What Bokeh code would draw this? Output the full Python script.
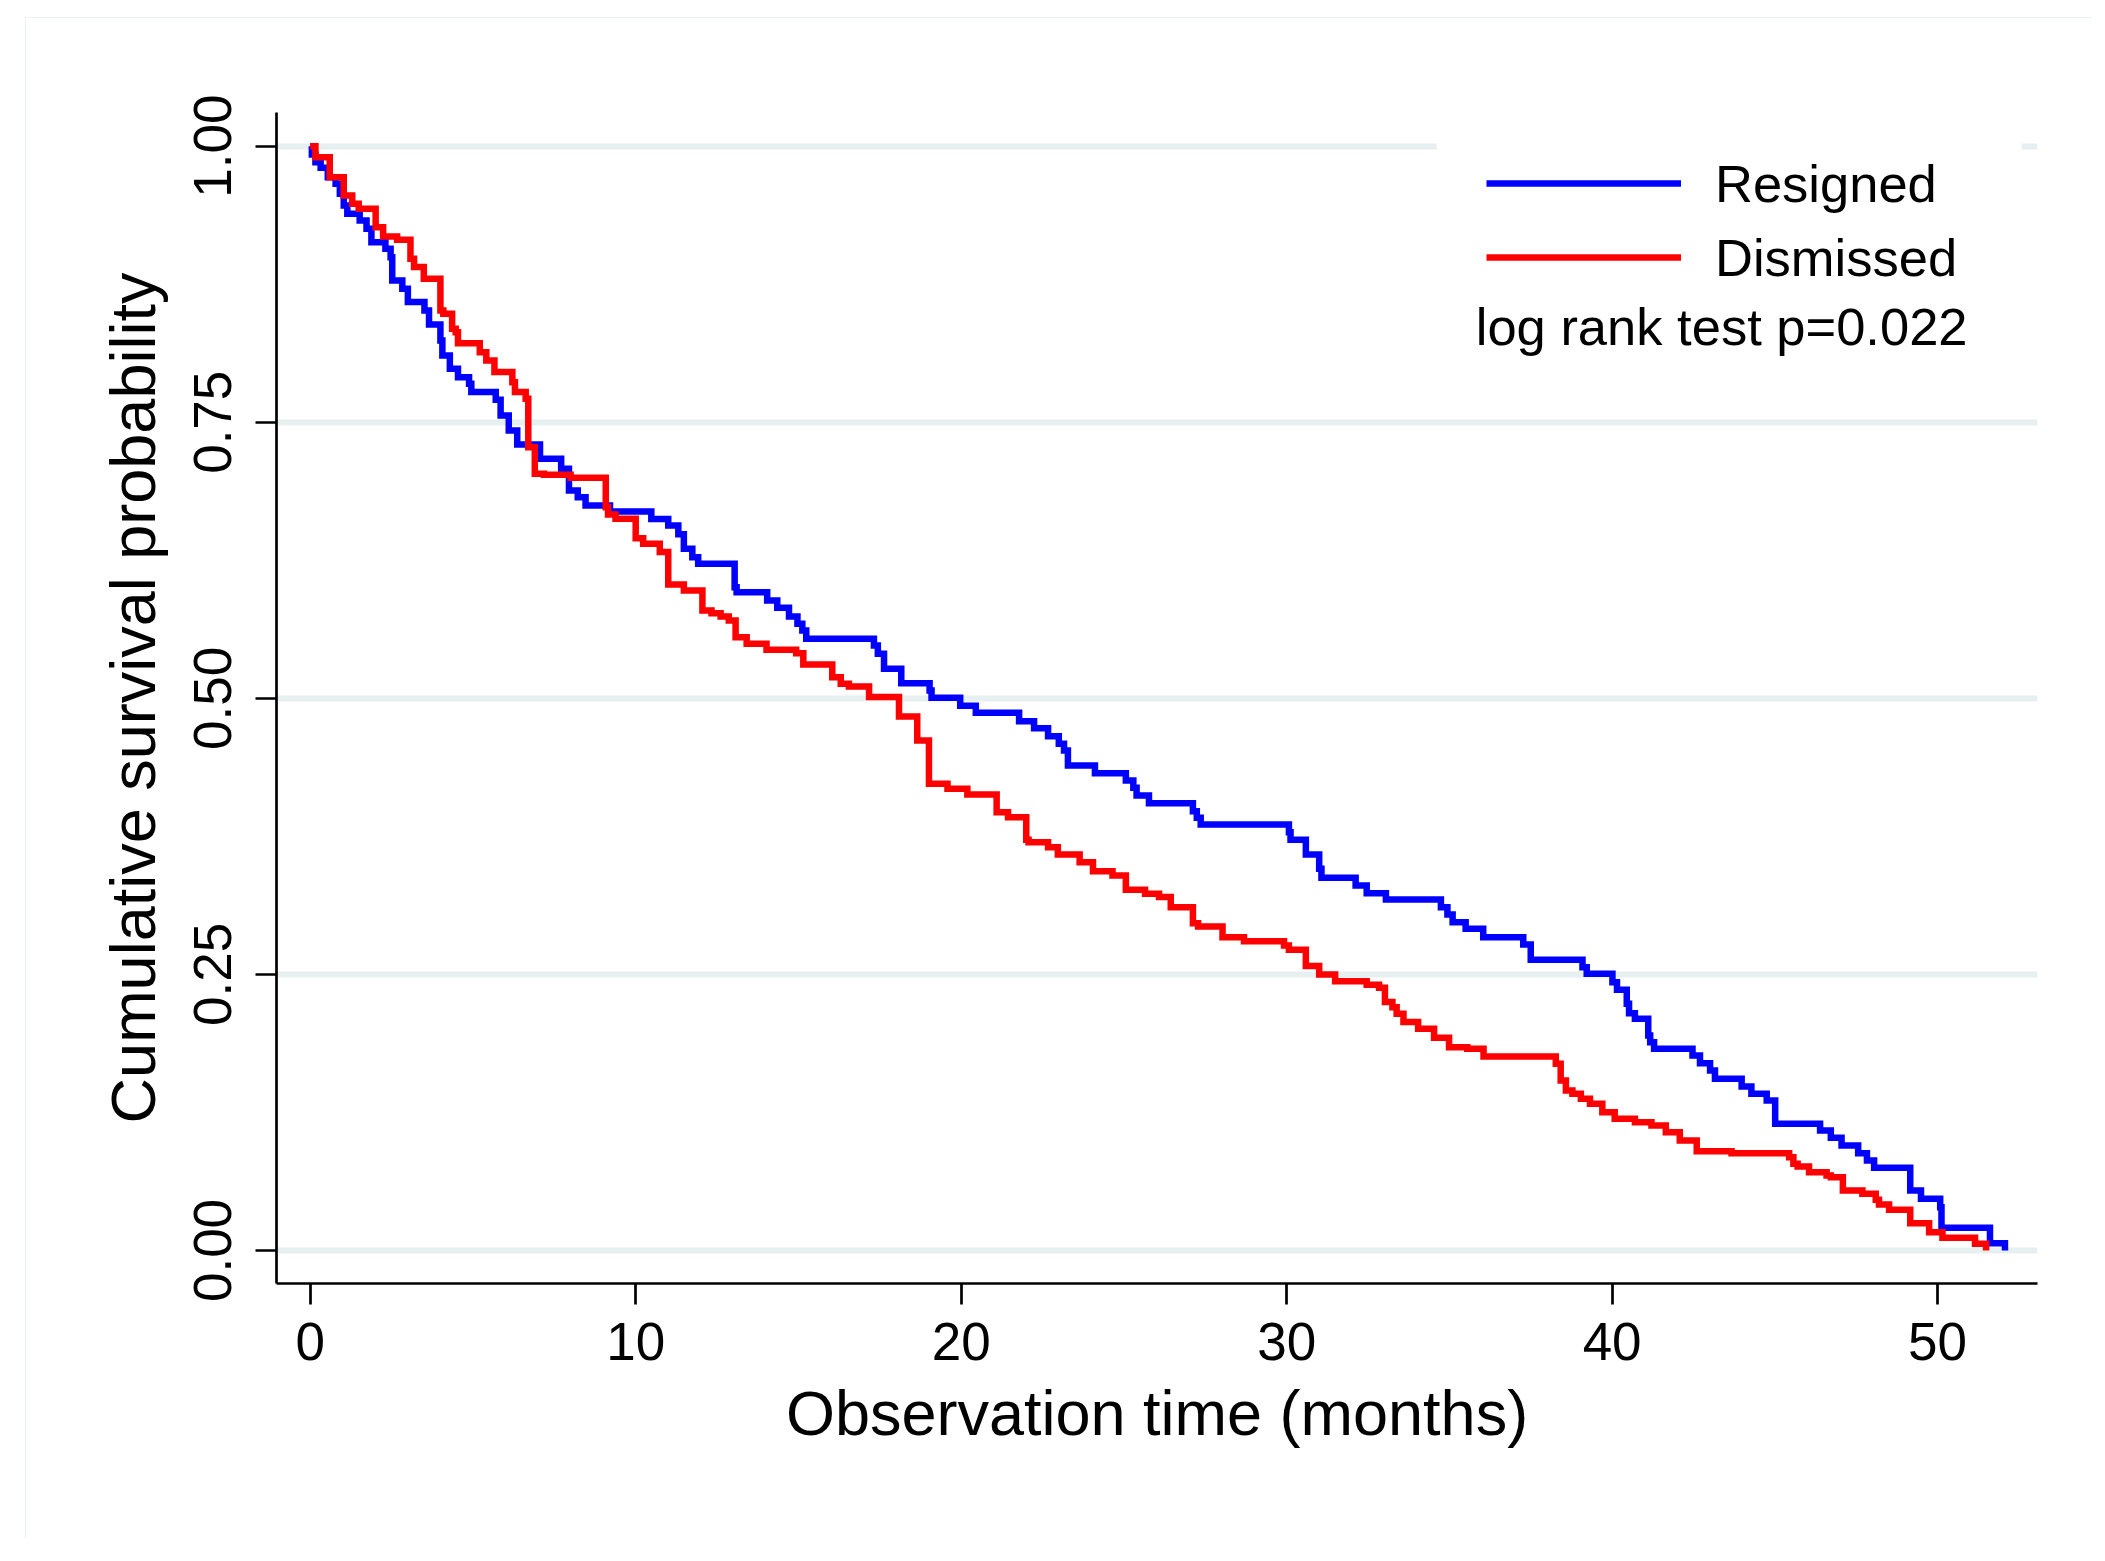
from bokeh.plotting import figure
from bokeh.models import (FixedTicker, Legend, LegendItem, BoxAnnotation, Label,
                          Range1d, NumeralTickFormatter)
from bokeh.embed import file_html
from bokeh.resources import INLINE

# ---------------- data ----------------
resigned_t = [0.05, 0.16, 0.32, 0.54, 0.78, 0.91, 1.03, 1.14, 1.52, 1.73, 1.88, 2.31, 2.47, 2.52,
              2.83, 3.00, 3.51, 3.65, 4.00, 4.06, 4.29, 4.54, 4.88, 4.95, 5.70, 5.85, 6.10, 6.36,
              7.06, 7.71, 7.95, 8.22, 8.46, 9.21, 10.48, 11.00, 11.31, 11.48, 11.74, 11.92, 13.04,
              13.10, 14.04, 14.35, 14.71, 14.97, 15.12, 15.24, 17.32, 17.44, 17.63, 18.16, 19.03,
              19.09, 19.97, 20.45, 21.78, 22.24, 22.67, 23.00, 23.16, 23.28, 24.11, 25.06, 25.29,
              25.39, 25.77, 27.12, 27.24, 27.36, 30.07, 30.12, 30.59, 31.00, 31.07, 32.12, 32.46,
              33.05, 34.74, 34.94, 35.10, 35.50, 36.04, 37.27, 37.50, 39.09, 39.22, 40.01, 40.15,
              40.45, 40.52, 40.70, 41.11, 41.17, 41.29, 42.47, 42.70, 43.01, 43.16, 43.98, 44.28,
              44.75, 45.01, 46.39, 46.72, 47.05, 47.56, 47.83, 48.05, 49.16, 49.49, 50.08, 50.12,
              51.61, 52.07]
resigned_s = [0.9925, 0.9855, 0.9804, 0.9719, 0.9659, 0.9569, 0.9463, 0.9388, 0.9327, 0.9252,
              0.9131, 0.9071, 0.8995, 0.8784, 0.8709, 0.8588, 0.8512, 0.8385, 0.8240, 0.8105,
              0.7984, 0.7908, 0.7848, 0.7773, 0.7703, 0.7561, 0.7426, 0.7299, 0.7169, 0.7078,
              0.6882, 0.6822, 0.6746, 0.6692, 0.6624, 0.6565, 0.6485, 0.6354, 0.6278, 0.6218,
              0.6007, 0.5961, 0.5886, 0.5820, 0.5741, 0.5675, 0.5614, 0.5539, 0.5479, 0.5403,
              0.5268, 0.5137, 0.5071, 0.5005, 0.4932, 0.4869, 0.4793, 0.4730, 0.4657, 0.4588,
              0.4528, 0.4392, 0.4322, 0.4256, 0.4190, 0.4120, 0.4051, 0.3978, 0.3918, 0.3858,
              0.3788, 0.3720, 0.3586, 0.3456, 0.3375, 0.3305, 0.3236, 0.3178, 0.3109, 0.3043,
              0.2973, 0.2913, 0.2837, 0.2771, 0.2632, 0.2565, 0.2506, 0.2430, 0.2360, 0.2234,
              0.2149, 0.2098, 0.1947, 0.1886, 0.1826, 0.1766, 0.1696, 0.1630, 0.1555, 0.1485,
              0.1419, 0.1358, 0.1147, 0.1087, 0.1020, 0.0951, 0.0881, 0.0815, 0.0749, 0.0543,
              0.0468, 0.0392, 0.0205, 0.0066, 0.0000]

dismissed_t = [0.16, 0.60, 1.03, 1.29, 1.49, 2.01, 2.24, 2.67, 3.08, 3.19, 3.49, 4.00, 4.09, 4.36,
               4.47, 4.54, 5.21, 5.41, 5.66, 6.21, 6.29, 6.62, 6.70, 6.90, 7.18, 8.00, 9.08, 9.15,
               9.38, 10.00, 10.23, 10.74, 11.00, 11.48, 12.05, 12.33, 12.61, 12.86, 13.07, 13.41,
               14.02, 14.93, 15.15, 16.04, 16.30, 16.55, 17.17, 18.09, 18.65, 19.01, 19.58, 20.19,
               21.09, 21.44, 22.00, 22.07, 22.67, 22.97, 23.64, 24.05, 24.65, 25.06, 25.65, 26.08,
               26.44, 27.12, 27.28, 28.03, 28.69, 29.92, 30.07, 30.59, 31.00, 31.49, 32.46, 32.84,
               33.02, 33.25, 33.38, 33.59, 34.04, 34.53, 34.99, 35.55, 36.05, 38.27, 38.42, 38.58,
               38.78, 39.04, 39.32, 39.70, 40.08, 40.70, 41.21, 41.65, 42.08, 42.60, 43.67, 45.44,
               45.57, 45.70, 46.05, 46.59, 46.72, 47.09, 47.69, 48.10, 48.20, 48.51, 49.16, 49.74,
               50.15, 51.15, 51.49]
dismissed_s = [0.9900, 0.9719, 0.9554, 0.9478, 0.9433, 0.9267, 0.9182, 0.9152, 0.8980, 0.8905,
               0.8800, 0.8512, 0.8482, 0.8346, 0.8316, 0.8216, 0.8135, 0.8060, 0.7954, 0.7863,
               0.7773, 0.7712, 0.7274, 0.7033, 0.7024, 0.6997, 0.6731, 0.6665, 0.6626, 0.6450,
               0.6400, 0.6324, 0.6031, 0.5977, 0.5795, 0.5771, 0.5741, 0.5705, 0.5554, 0.5494,
               0.5440, 0.5409, 0.5307, 0.5192, 0.5132, 0.5107, 0.5011, 0.4836, 0.4618, 0.4226,
               0.4181, 0.4130, 0.3969, 0.3924, 0.3719, 0.3697, 0.3652, 0.3586, 0.3516, 0.3435,
               0.3396, 0.3266, 0.3230, 0.3200, 0.3109, 0.2964, 0.2934, 0.2837, 0.2801, 0.2762,
               0.2723, 0.2575, 0.2499, 0.2439, 0.2406, 0.2379, 0.2249, 0.2203, 0.2143, 0.2068,
               0.2007, 0.1926, 0.1841, 0.1826, 0.1757, 0.1691, 0.1539, 0.1449, 0.1419, 0.1374,
               0.1328, 0.1252, 0.1193, 0.1162, 0.1132, 0.1071, 0.0996, 0.0899, 0.0881, 0.0845,
               0.0785, 0.0761, 0.0709, 0.0679, 0.0664, 0.0543, 0.0513, 0.0459, 0.0417, 0.0368,
               0.0247, 0.0166, 0.0115, 0.0061, 0.0000]

series_names = ["Resigned", "Dismissed"]
x_ticks = [0, 10, 20, 30, 40, 50]
y_ticks = [0.0, 0.25, 0.50, 0.75, 1.0]
note_text = "log rank test p=0.022"
x_title = "Observation time (months)"
y_title = "Cumulative survival probability"

FONT = "Liberation Sans"

p = figure(width=2067, height=1521, output_backend="svg", toolbar_location=None,
           x_range=Range1d(-1.036, 53.07), y_range=Range1d(-0.0299, 1.0305),
           min_border_left=251, min_border_right=55, min_border_top=95, min_border_bottom=255,
           margin=(17, 0, 0, 25),
           styles={"outline": "2px solid #e4eded", "outline-offset": "-2px"})
p.outline_line_color = None
p.background_fill_color = "white"
p.border_fill_color = "white"

# grid
p.xgrid.visible = False
p.ygrid.ticker = FixedTicker(ticks=y_ticks)
p.ygrid.grid_line_color = "#e7f0f1"
p.ygrid.grid_line_width = 6

# curves
r1 = p.step([0.0] + resigned_t, [1.0] + resigned_s, mode="after",
            line_color="#0000ff", line_width=6.5, line_join="miter")
r2 = p.step([0.0] + dismissed_t, [1.0] + dismissed_s, mode="after",
            line_color="#ff0000", line_width=6.5, line_join="miter")

# axes
for ax in (p.xaxis[0], p.yaxis[0]):
    ax.axis_line_color = "black"
    ax.axis_line_width = 2.7
    ax.major_tick_line_color = "black"
    ax.major_tick_line_width = 2.7
    ax.major_tick_out = 21
    ax.major_tick_in = 0
    ax.minor_tick_out = 0
    ax.minor_tick_in = 0
    ax.major_label_text_font = FONT
    ax.major_label_text_font_size = "53px"
    ax.major_label_text_color = "black"
    ax.axis_label_text_font = FONT
    ax.axis_label_text_font_size = "63px"
    ax.axis_label_text_font_style = "normal"
    ax.axis_label_text_color = "black"

p.xaxis.ticker = FixedTicker(ticks=x_ticks)
p.yaxis.ticker = FixedTicker(ticks=y_ticks)
p.yaxis.formatter = NumeralTickFormatter(format="0.00")
p.yaxis.major_label_orientation = "vertical"
p.xaxis.axis_label = x_title
p.yaxis.axis_label = y_title
p.xaxis.major_label_standoff = 18
p.yaxis.major_label_standoff = 24
p.xaxis.axis_label_standoff = 15
p.yaxis.axis_label_standoff = 24

# legend region (white box hiding the grid line)
box = BoxAnnotation(left=34.61, right=52.58, bottom=0.80, top=1.0305,
                    fill_color="white", fill_alpha=1.0, line_color=None)
p.add_layout(box)

legend = Legend(items=[LegendItem(label=series_names[0], renderers=[r1]),
                       LegendItem(label=series_names[1], renderers=[r2])],
                location=(1210, 992), orientation="vertical",
                padding=0, margin=0, spacing=6,
                glyph_width=195, glyph_height=60, label_height=68, label_standoff=34,
                label_text_font=FONT, label_text_font_size="52.5px", label_text_color="black",
                background_fill_alpha=0, border_line_alpha=0)
p.add_layout(legend, "center")

note = Label(x=35.81, y=0.837, text=note_text, text_font=FONT, text_font_size="52.5px",
             text_color="black", text_align="left", text_baseline="alphabetic")
p.add_layout(note)

open("out.html", "w").write(file_html(p, INLINE))
